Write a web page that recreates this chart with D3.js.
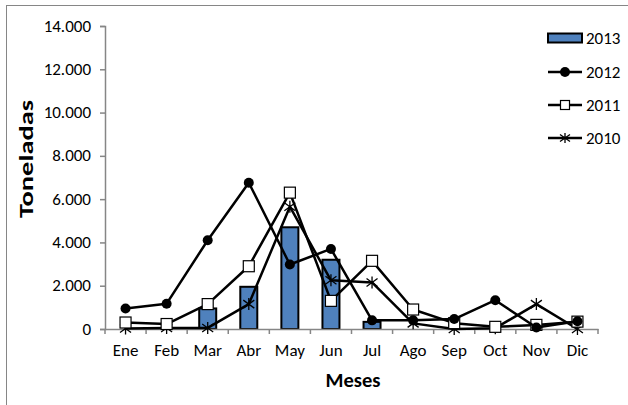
<!DOCTYPE html>
<html>
  <head>
    <meta charset="utf-8" />
    <title>Toneladas por mes</title>
    <script src="https://d3js.org/d3.v7.min.js"></script>
    <style>
      body { margin: 0; background: #fff; }
      text { font-family: Carlito, Calibri, Lato, sans-serif; fill: #000; }
    </style>
  </head>
  <body>
    <svg width="628" height="405" id="chart"></svg>

    <script>
      // Data
      var meses = ["Ene", "Feb", "Mar", "Abr", "May", "Jun", "Jul", "Ago", "Sep", "Oct", "Nov", "Dic"];
      var v2013 = [0, 0, 950, 1950, 4700, 3200, 330, 0, 0, 0, 0, 0];
      var v2012 = [950, 1170, 4100, 6760, 2980, 3700, 400, 400, 460, 1330, 70, 360];
      var v2011 = [300, 230, 1150, 2900, 6300, 1300, 3150, 900, 270, 100, 190, 340];
      var v2010 = [20, 50, 50, 1150, 5650, 2250, 2150, 260, 0, 40, 1150, 0];
      var yTicks = [0, 2000, 4000, 6000, 8000, 10000, 12000, 14000];

      var svg = d3.select("#chart");
      var grey = "#868686";
      var fs = 17;

      // outer chart border (runs off right/bottom edge)
      svg.append("rect")
        .attr("x", 6.5).attr("y", 5.5)
        .attr("width", 640).attr("height", 420)
        .attr("fill", "#fff").attr("stroke", grey).attr("stroke-width", 1);

      var x = d3.scaleBand().domain(meses).range([105, 598]);
      var y = d3.scaleLinear().domain([0, 14000]).range([329, 26]);

      var es = d3.formatLocale({ decimal: ",", thousands: ".", grouping: [3], currency: ["", ""] });

      // y axis
      var yAxis = svg.append("g")
        .attr("transform", "translate(105,0)")
        .call(d3.axisLeft(y).tickValues(yTicks).tickSize(5).tickPadding(9).tickFormat(es.format(",d")));
      yAxis.select(".domain").attr("stroke", grey).attr("stroke-width", 1.5);
      yAxis.selectAll(".tick line").attr("stroke", grey).attr("stroke-width", 1.5);
      yAxis.selectAll(".tick text").attr("font-size", fs).attr("dy", "0.3em");

      // bars 2013
      var bw = 17;
      svg.selectAll(".bar")
        .data(v2013)
        .join("rect")
        .attr("class", "bar")
        .attr("x", function(d, i) { return x(meses[i]) + x.bandwidth() / 2 - bw / 2; })
        .attr("y", function(d) { return y(d); })
        .attr("width", bw)
        .attr("height", function(d) { return y(0) - y(d); })
        .attr("fill", "#4f81bd")
        .attr("stroke", "#000")
        .attr("stroke-width", 2)
        .style("display", function(d) { return d > 0 ? null : "none"; });

      // x axis
      var xAxis = svg.append("g")
        .attr("transform", "translate(0,329)")
        .call(d3.axisBottom(x).tickSize(0).tickPadding(15));
      xAxis.select(".domain").attr("stroke", grey).attr("stroke-width", 1.5);
      xAxis.selectAll(".tick text").attr("font-size", fs).attr("dy", "0.68em");
      xAxis.selectAll(".sep")
        .data(d3.range(meses.length + 1))
        .join("line")
        .attr("class", "sep")
        .attr("x1", function(i) { return 105 + i * x.step(); })
        .attr("x2", function(i) { return 105 + i * x.step(); })
        .attr("y1", 0).attr("y2", 5)
        .attr("stroke", grey).attr("stroke-width", 1.5);

      var cx = function(d, i) { return x(meses[i]) + x.bandwidth() / 2; };
      var line = d3.line().x(cx).y(function(d) { return y(d); });

      function drawSeries(vals, marker) {
        var g = svg.append("g");
        g.append("path")
          .datum(vals)
          .attr("d", line)
          .attr("fill", "none")
          .attr("stroke", "#000")
          .attr("stroke-width", 2.5)
          .attr("stroke-linejoin", "round");
        var pts = g.selectAll("g.pt")
          .data(vals)
          .join("g")
          .attr("class", "pt")
          .attr("transform", function(d, i) { return "translate(" + cx(d, i) + "," + y(d) + ")"; });
        addMarker(pts, marker);
      }

      function addMarker(sel, marker) {
        if (marker == "circle") {
          sel.append("circle").attr("r", 5).attr("fill", "#000");
        } else if (marker == "square") {
          sel.append("rect").attr("x", -5.5).attr("y", -5.5).attr("width", 11).attr("height", 11)
            .attr("fill", "#fff").attr("stroke", "#000").attr("stroke-width", 1.2);
        } else if (marker == "star") {
          sel.append("path").attr("d", "M0,-6L0,6M-5.5,-4L5.5,4M-5.5,4L5.5,-4")
            .attr("stroke", "#000").attr("stroke-width", 1.3).attr("fill", "none");
        }
      }

      drawSeries(v2010, "star");
      drawSeries(v2011, "square");
      drawSeries(v2012, "circle");

      // legend
      var legend = [
        { name: "2013", type: "bar", y: 38 },
        { name: "2012", type: "circle", y: 72 },
        { name: "2011", type: "square", y: 105 },
        { name: "2010", type: "star", y: 138 }
      ];
      var lg = svg.selectAll(".leg")
        .data(legend)
        .join("g")
        .attr("class", "leg")
        .attr("transform", function(d) { return "translate(565," + d.y + ")"; });
      lg.each(function(d) {
        var g = d3.select(this);
        if (d.type == "bar") {
          g.append("rect").attr("x", -17).attr("y", -4.5).attr("width", 34).attr("height", 9)
            .attr("fill", "#4f81bd").attr("stroke", "#000").attr("stroke-width", 2);
        } else {
          g.append("line").attr("x1", -17).attr("x2", 17).attr("stroke", "#000").attr("stroke-width", 2.5);
          var m = g.append("g");
          if (d.type == "circle") {
            m.append("circle").attr("r", 5).attr("fill", "#000");
          } else if (d.type == "square") {
            m.append("rect").attr("x", -4.5).attr("y", -4.5).attr("width", 9).attr("height", 9)
              .attr("fill", "#fff").attr("stroke", "#000").attr("stroke-width", 1.2);
          } else {
            m.append("path").attr("d", "M0,-5L0,5M-5,-3.5L5,3.5M-5,3.5L5,-3.5")
              .attr("stroke", "#000").attr("stroke-width", 1.3);
          }
        }
        g.append("text").attr("x", 21).attr("y", 5.5).attr("font-size", fs).text(d.name);
      });

      // axis titles
      svg.append("text")
        .attr("x", 353).attr("y", 387)
        .attr("text-anchor", "middle")
        .attr("font-size", 20.5).attr("font-weight", "bold")
        .text("Meses");
      svg.append("text")
        .attr("transform", "translate(33,159) rotate(-90)")
        .attr("text-anchor", "middle")
        .attr("font-size", 21).attr("font-weight", "bold")
        .attr("textLength", 118).attr("lengthAdjust", "spacingAndGlyphs")
        .text("Toneladas");
    </script>
  </body>
</html>
